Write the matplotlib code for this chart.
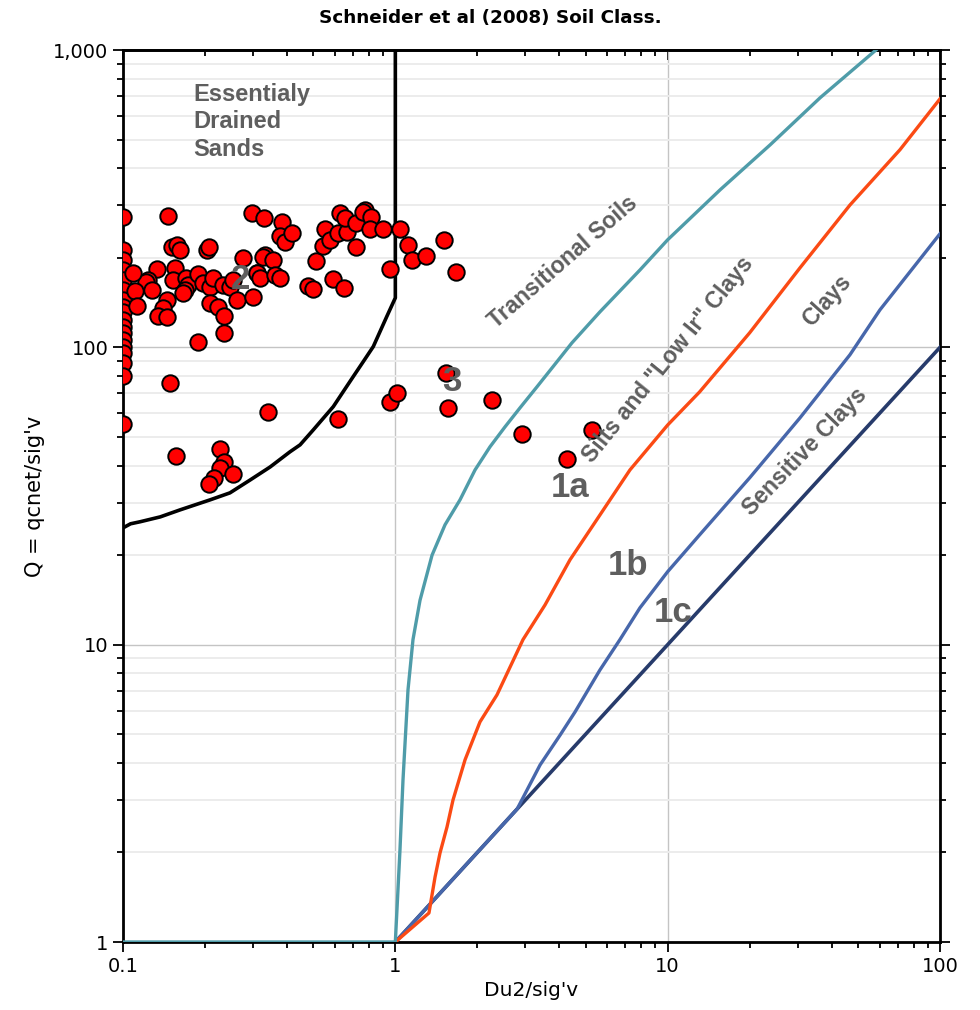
import matplotlib
matplotlib.use("Agg")
import matplotlib.pyplot as plt
from matplotlib.ticker import LogLocator, NullFormatter

# measured points (Du2/sig'v, Q)
u2_pts = [0.1, 0.1, 0.1, 0.1, 0.1, 0.1, 0.1, 0.1, 0.1, 0.1, 0.1, 0.1, 0.1, 0.1, 0.1, 0.1, 0.1, 0.1,
          0.146, 0.151, 0.158, 0.162, 0.203, 0.207, 0.133, 0.124, 0.121, 0.109, 0.111, 0.113,
          0.128, 0.155, 0.153, 0.145, 0.140, 0.135, 0.145, 0.171, 0.173, 0.169, 0.166, 0.189,
          0.197, 0.209, 0.214, 0.209, 0.223, 0.235, 0.235, 0.189, 0.233, 0.247, 0.254, 0.262,
          0.276, 0.300, 0.311, 0.297, 0.330, 0.383, 0.377, 0.394, 0.418, 0.332, 0.327, 0.356,
          0.310, 0.319, 0.362, 0.377, 0.478, 0.499, 0.510, 0.589, 0.648, 0.552, 0.543, 0.576,
          0.616, 0.663, 0.626, 0.654, 0.720, 0.717, 0.774, 0.760, 0.812, 0.810, 0.899, 0.956,
          1.04, 1.113, 1.155, 1.296, 1.509, 1.67, 1.531, 1.561, 2.265, 2.918, 4.259, 5.275,
          0.956, 1.012, 0.341, 0.616, 0.149, 0.157, 0.227, 0.235, 0.227, 0.216, 0.207, 0.253]
q_pts = [275, 213, 197, 182, 169, 156, 144, 137, 131, 124, 117, 112, 106, 100, 95.8, 88.7, 80.2, 55.3,
         277, 218, 221, 213, 213, 218, 184, 169, 166, 178, 155, 138,
         156, 185, 169, 144, 136, 127, 126, 171, 162, 156, 152.5, 177,
         165, 160, 171, 141, 137, 127, 112, 104, 162, 160, 169, 144,
         200, 148, 178, 283.5, 273, 264, 237, 226.5, 243, 205, 201.5, 197,
         178, 171, 175, 171, 161, 157, 195, 170, 158.5, 250, 219.5, 230,
         243, 244, 283.5, 273, 262, 218, 290, 284.6, 275, 250, 250, 184,
         250, 221, 197, 203, 230, 179.5, 82, 62.5, 66.6, 51.2, 42.2, 52.8,
         65.5, 70.3, 60.7, 57.5, 75.9, 43.1, 45.6, 41.2, 39.3, 36.4, 34.7, 37.5]

# zone boundaries
sand_u2 = [1, 1, 0.930, 0.830, 0.763, 0.701, 0.644, 0.592, 0.500, 0.447, 0.410, 0.347, 0.293,
           0.247, 0.209, 0.162, 0.137, 0.1155, 0.1066, 0.1]
sand_q = [1000, 146.7, 126.9, 100.6, 89.6, 79.8, 71.0, 63.2, 52.8, 47.0, 44.5, 39.6, 35.8,
          32.4, 30.7, 28.4, 26.9, 25.9, 25.5, 24.7]

trans_u2 = [0.1, 1, 1.040, 1.067, 1.113, 1.161, 1.232, 1.364, 1.522, 1.728, 1.962, 2.227, 2.527,
            2.87, 3.31, 3.79, 4.45, 5.64, 7.91, 10, 15.6, 23.8, 36.3, 58.2]
trans_q = [1, 1, 2.04, 3.51, 7.04, 10.4, 14.1, 20.0, 25.3, 30.7, 38.7, 46.3, 54.0,
           62.6, 73.6, 86.0, 103.5, 131.6, 182, 230, 339, 480, 691, 1000]

silt_u2 = [1, 1.329, 1.399, 1.459, 1.548, 1.628, 1.803, 2.046, 2.362, 2.943, 3.545, 4.38, 5.64, 7.27,
           10, 13.1, 20.0, 30.6, 46.7, 71.3, 100]
silt_q = [1, 1.252, 1.654, 1.993, 2.437, 3.00, 4.10, 5.50, 6.78, 10.4, 13.6, 19.3, 27.3, 38.7,
          54.8, 70.8, 111.9, 185, 301, 462, 685]

clay_u2 = [1, 2.8, 3.40, 4.03, 4.57, 5.64, 6.68, 7.91, 10, 13.1, 20.0, 30.6, 46.7, 60.2, 100]
clay_q = [1, 2.8, 3.94, 4.97, 5.94, 8.22, 10.4, 13.3, 17.6, 23.4, 36.4, 57.9, 94.4, 133.7, 241]

sens_u2 = [1, 100]
sens_q = [1, 100]

fig = plt.figure(figsize=(9.8, 10.1), dpi=100)
ax = fig.add_axes([123 / 980, 68 / 1010, 817 / 980, 892 / 1010])
ax.set_xscale("log")
ax.set_yscale("log")
ax.set_xlim(0.1, 100)
ax.set_ylim(1, 1000)

ax.grid(True, which="major", color="#c4c4c4", lw=1.0)
ax.grid(True, which="minor", axis="y", color="#ececec", lw=1.4)
ax.set_axisbelow(True)

ax.plot(sens_u2, sens_q, color="#273b6b", lw=2.6, zorder=3)
ax.plot(clay_u2, clay_q, color="#4767ab", lw=2.4, zorder=3)
ax.plot(silt_u2, silt_q, color="#fb4a14", lw=2.4, zorder=3)
ax.plot(trans_u2, trans_q, color="#4f9ca9", lw=2.4, zorder=3)
ax.plot(sand_u2, sand_q, color="black", lw=2.6, zorder=3)

ax.scatter(u2_pts, q_pts, s=140, c="#ff0000", edgecolors="black", linewidths=1.4, zorder=4)

gray = "#5e5e5e"
ax.text(0.1807, 573, "Essentialy\nDrained\nSands", ha="left", va="center", fontsize=17,
        fontweight="bold", color=gray, family="Liberation Sans", linespacing=1.25, zorder=5)
for txt, x, y in [("2", 0.269, 168.7), ("3", 1.615, 76.5), ("1a", 4.38, 33.9),
                  ("1b", 7.15, 18.5), ("1c", 10.46, 12.8)]:
    ax.text(x, y, txt, ha="center", va="center", fontsize=25, fontweight="bold",
            color=gray, family="Liberation Sans", zorder=5)
for txt, x, y, rot in [("Transitional Soils", 4.13, 194, 41),
                       ('Silts and "Low Ir" Clays', 10, 90.7, 51),
                       ("Clays", 38.5, 144, 48),
                       ("Sensitive Clays", 31.9, 44.5, 46)]:
    ax.text(x, y, txt, ha="center", va="center", rotation=rot, rotation_mode="anchor",
            fontsize=16.5, fontweight="bold", color=gray, family="Liberation Sans", zorder=5)

ax.set_xticks([0.1, 1, 10, 100])
ax.set_xticklabels(["0.1", "1", "10", "100"])
ax.set_yticks([1, 10, 100, 1000])
ax.set_yticklabels(["1", "10", "100", "1,000"])
ax.xaxis.set_minor_locator(LogLocator(base=10, subs=range(2, 10)))
ax.yaxis.set_minor_locator(LogLocator(base=10, subs=range(2, 10)))
ax.xaxis.set_minor_formatter(NullFormatter())
ax.yaxis.set_minor_formatter(NullFormatter())
ax.tick_params(which="both", direction="out", right=True, top=False, width=1.3, labelsize=14)
ax.tick_params(which="major", length=7)
ax.tick_params(which="minor", length=4.5)

top = ax.secondary_xaxis("top")
top.xaxis.set_minor_locator(LogLocator(base=10, subs=range(2, 10)))
top.xaxis.set_minor_formatter(NullFormatter())
top.set_xticks([0.1, 1, 10, 100])
top.tick_params(which="both", direction="in", labeltop=False, width=1.3)
top.tick_params(which="major", length=7)
top.tick_params(which="minor", length=4.5)
top.spines["top"].set_linewidth(2)

for sp in ax.spines.values():
    sp.set_linewidth(2)
    sp.set_color("black")

ax.set_xlabel("Du2/sig'v", fontsize=14.5)
ax.set_ylabel("Q = qcnet/sig'v", fontsize=15, labelpad=6)
fig.text(0.5, 1 - 18 / 1010, "Schneider et al (2008) Soil Class.", ha="center", va="center",
         fontsize=13.2, fontweight="bold")

fig.savefig("out.png", dpi=100)
